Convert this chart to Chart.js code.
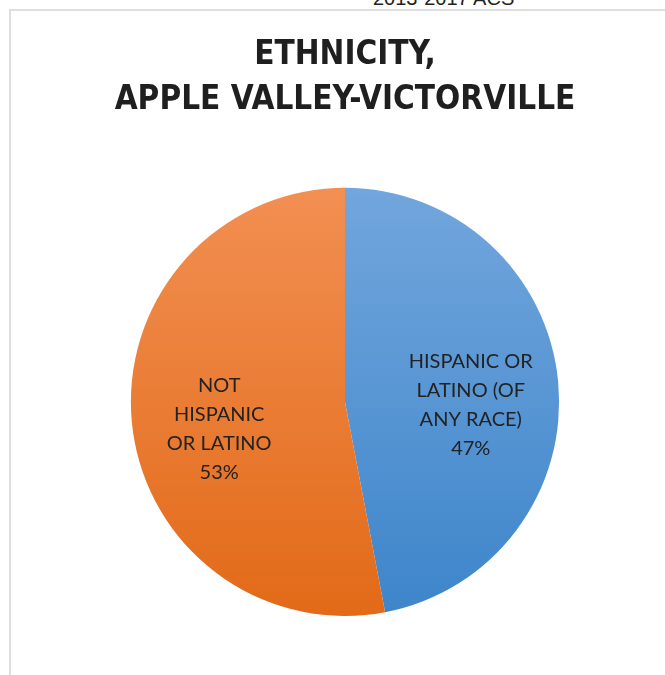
<!DOCTYPE html>
<html>
<head>
<meta charset="utf-8">
<script src="https://cdn.jsdelivr.net/npm/chart.js@4/dist/chart.umd.min.js"></script>
<style>
  html, body { margin: 0; padding: 0; background: #ffffff; overflow: hidden; }
  #page { position: relative; width: 665px; height: 675px; }
  #frame {
    position: absolute; left: 9px; top: 9px; width: 700px; height: 700px;
    border-left: 2px solid #dedede; border-top: 2px solid #dedede;
  }
  #source {
    position: absolute; left: 373px; top: -12px;
    font: 20px/20px "Liberation Sans", Arial, sans-serif; color: #222222;
    white-space: nowrap;
  }
  #chart { position: absolute; left: 0; top: 0; }
</style>
</head>
<body>
<div id="page">
  <div id="source">2013-2017 ACS</div>
  <div id="frame"></div>
  <canvas id="chart" width="665" height="675"></canvas>
</div>
<script>
//-------------------------------------------------------------------
// ethnicity pie
//-------------------------------------------------------------------
const sliceNames = ['HISPANIC OR LATINO (OF ANY RACE)', 'NOT HISPANIC OR LATINO'];
const sliceLines = [
  ['HISPANIC OR', 'LATINO (OF', 'ANY RACE)'],
  ['NOT', 'HISPANIC', 'OR LATINO']
];
const slicePercents = [47, 53];

// gradient stops per slice, top -> bottom
const sliceTopColors = ['#72a6dd', '#f28f52'];
const sliceBottomColors = ['#3d85ca', '#e26a18'];

function sliceFill(context) {
  const chart = context.chart;
  const area = chart.chartArea;
  const i = context.dataIndex;
  if (!area) return sliceBottomColors[i];
  const grad = chart.ctx.createLinearGradient(0, area.top, 0, area.bottom);
  grad.addColorStop(0, sliceTopColors[i]);
  grad.addColorStop(1, sliceBottomColors[i]);
  return grad;
}

// draws the category name and percentage inside each slice
const sliceLabelPlugin = {
  id: 'sliceLabels',
  afterDatasetsDraw(chart, args, opts) {
    const ctx = chart.ctx;
    const meta = chart.getDatasetMeta(0);
    ctx.save();
    ctx.font = opts.font;
    ctx.fillStyle = opts.color;
    ctx.textAlign = 'center';
    ctx.textBaseline = 'middle';
    meta.data.forEach((arc, i) => {
      const p = arc.getProps(['x', 'y', 'startAngle', 'endAngle', 'outerRadius'], true);
      const mid = (p.startAngle + p.endAngle) / 2;
      const r = p.outerRadius * opts.radiusFactor;
      const cx = p.x + Math.cos(mid) * r;
      const cy = p.y + Math.sin(mid) * r + opts.offsetY;
      const lines = sliceLines[i].concat([chart.data.datasets[0].data[i] + '%']);
      const top = cy - (lines.length - 1) * opts.lineHeight / 2;
      lines.forEach((txt, j) => ctx.fillText(txt, cx, top + j * opts.lineHeight));
    });
    ctx.restore();
  }
};

new Chart(document.getElementById('chart'), {
  type: 'pie',
  data: {
    labels: sliceNames,
    datasets: [{
      data: slicePercents,
      backgroundColor: sliceFill,
      borderWidth: 0
    }]
  },
  options: {
    responsive: false,
    animation: false,
    // pie height sets the radius; the 25px left inset puts its centre at x=345
    layout: { padding: { top: 0, bottom: 59, left: 25, right: 0 } },
    plugins: {
      legend: { display: false },
      tooltip: { enabled: false },
      title: {
        display: true,
        text: ['ETHNICITY,', 'APPLE VALLEY-VICTORVILLE'],
        color: '#1f1f1f',
        font: { family: '"DejaVu Sans Condensed", "DejaVu Sans", sans-serif', size: 33, weight: 'bold', lineHeight: 1.36 },
        padding: { top: 33, bottom: 65 }
      },
      sliceLabels: {
        font: '20px Lato, "Open Sans", sans-serif',
        color: '#222222',
        lineHeight: 29,
        radiusFactor: 0.59,
        offsetY: 15
      }
    }
  },
  plugins: [sliceLabelPlugin]
});
</script>
</body>
</html>
